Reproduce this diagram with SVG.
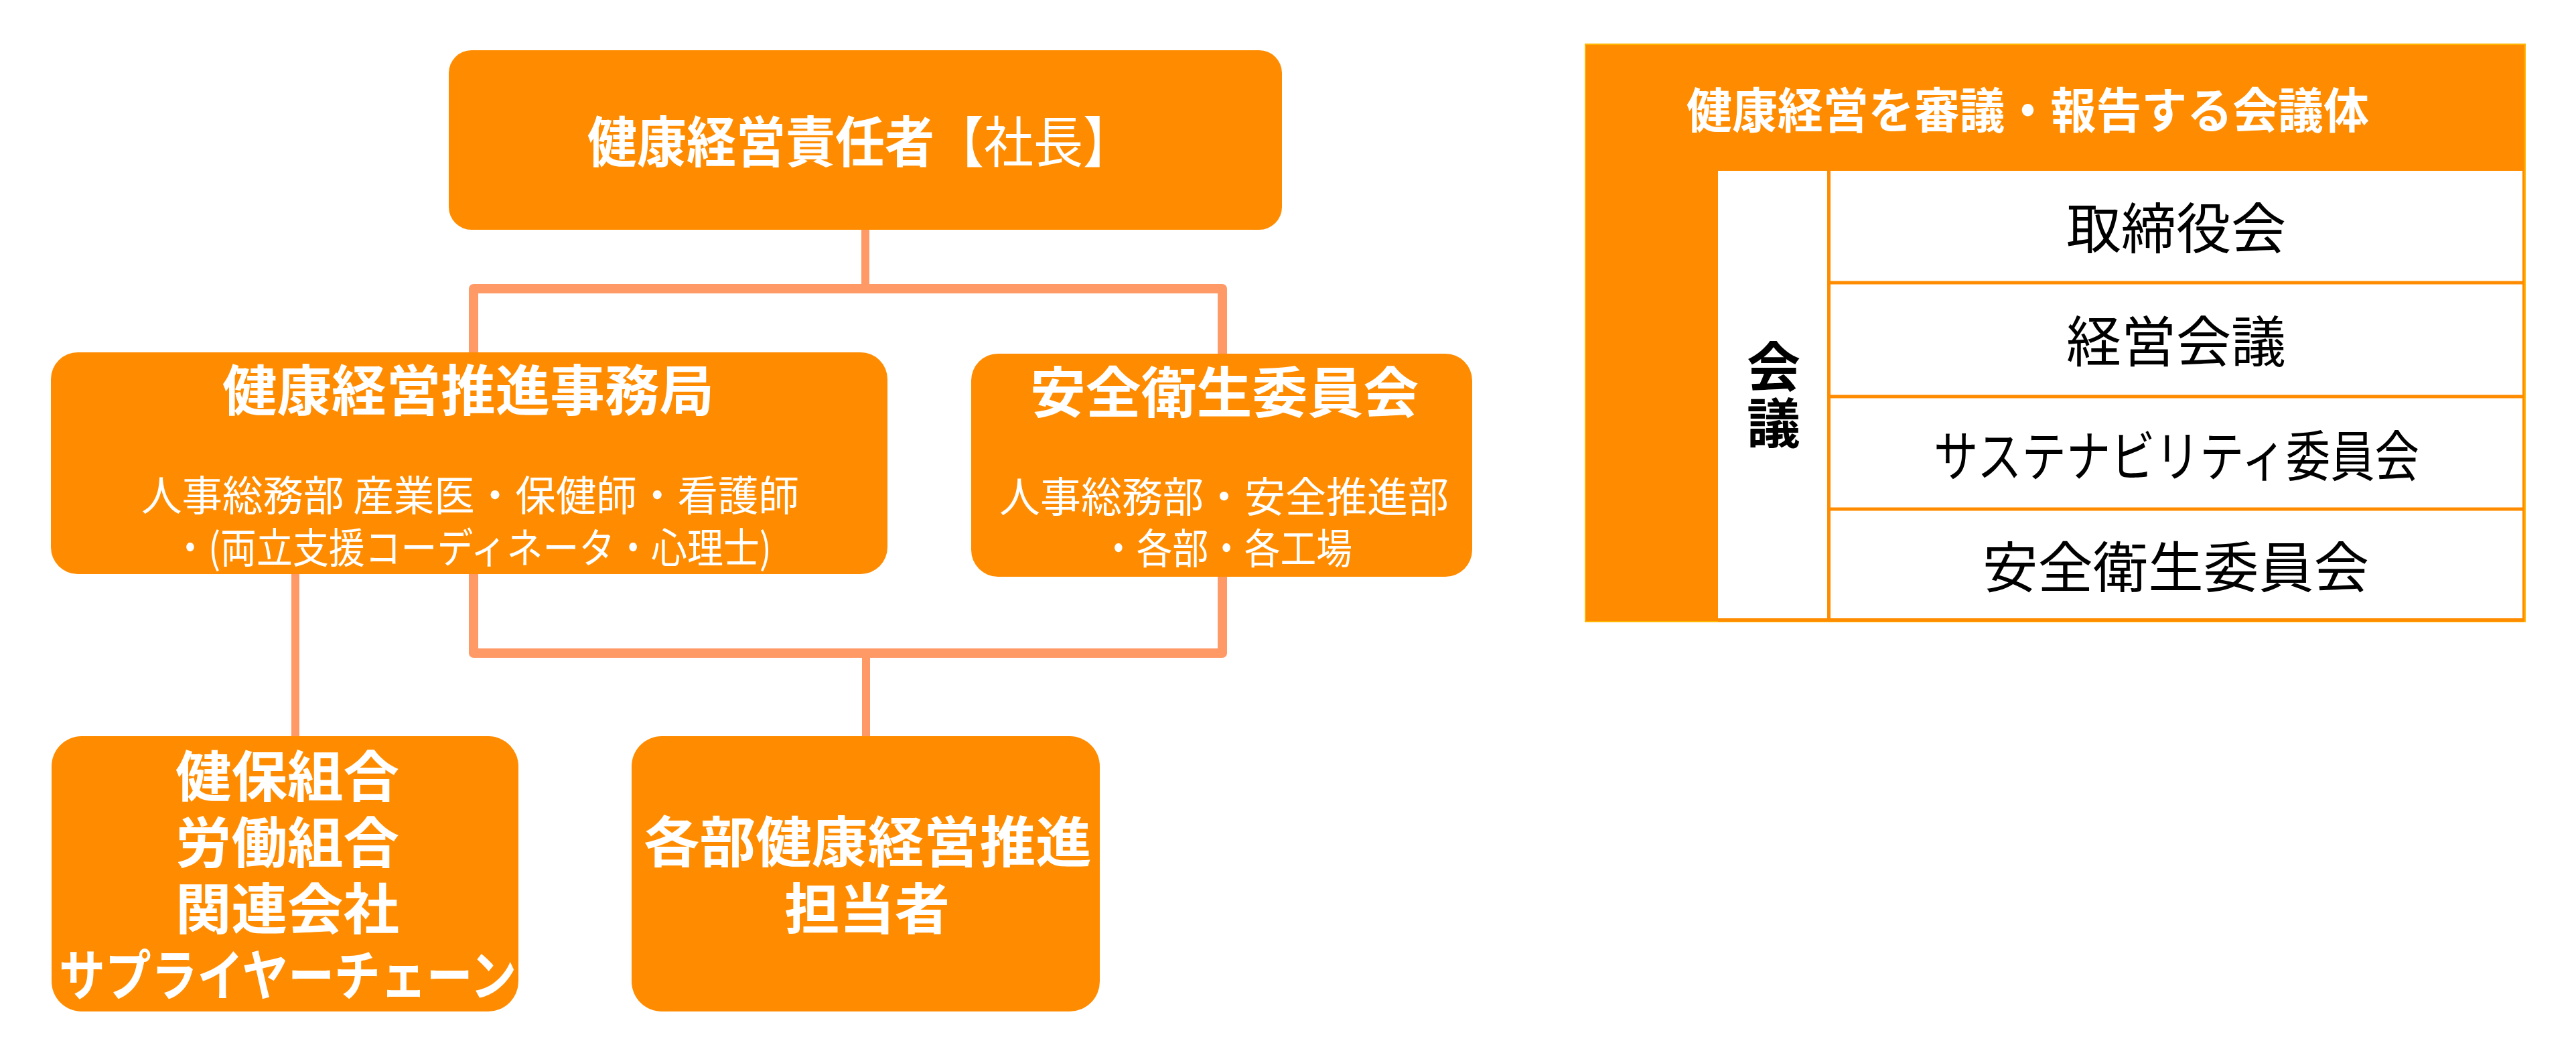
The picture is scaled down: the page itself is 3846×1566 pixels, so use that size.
<svg xmlns="http://www.w3.org/2000/svg" width="3846" height="1566" viewBox="0 0 3846 1566">
<style>
.box{fill:#FF8C00;}
.w{fill:#FFFFFF;font-family:"Noto Sans CJK JP","Noto Sans",sans-serif;text-anchor:middle;}
.k{fill:#000000;font-family:"Noto Sans CJK JP","Noto Sans",sans-serif;text-anchor:middle;}
.b{font-weight:bold;}
.n{font-weight:normal;}
.t{font-size:82px;}
.s{font-size:62px;}
.conn{fill:none;stroke:#FF9966;stroke-linejoin:round;}
.grid{stroke:#FF8C00;stroke-width:5;fill:none;}
</style>
<rect width="3846" height="1566" fill="#FFFFFF"/>
<g id="connectors">
<path class="conn" stroke-width="12" d="M1292,342 V431"/>
<path class="conn" stroke-width="14" d="M707,530 V431 H1825 V530"/>
<path class="conn" stroke-width="14" d="M707,855 V975 H1825 V858"/>
<path class="conn" stroke-width="12" d="M1293,975 V1102"/>
<path class="conn" stroke-width="12" d="M441,855 V1102"/>
</g>
<g id="node-president">
<rect class="box" x="670" y="75" width="1244" height="268" rx="34" ry="34"/>
<text class="w t" x="1284" y="242" textLength="814" lengthAdjust="spacingAndGlyphs"><tspan class="b">健康経営責任者</tspan><tspan class="n">【社長】</tspan></text>
</g>
<g id="node-office">
<rect class="box" x="76" y="526" width="1249" height="331" rx="40" ry="40"/>
<text class="w t b" x="699" y="613" textLength="734" lengthAdjust="spacingAndGlyphs">健康経営推進事務局</text>
<text class="w s n" x="702" y="763" textLength="982" lengthAdjust="spacingAndGlyphs">人事総務部 産業医・保健師・看護師</text>
<text class="w s n" x="704.5" y="841" textLength="895" lengthAdjust="spacingAndGlyphs">・(両立支援コーディネータ・心理士)</text>
</g>
<g id="node-safety">
<rect class="box" x="1450" y="528" width="748" height="333" rx="40" ry="40"/>
<text class="w t b" x="1828" y="616" textLength="580" lengthAdjust="spacingAndGlyphs">安全衛生委員会</text>
<text class="w s n" x="1827.5" y="765" textLength="671" lengthAdjust="spacingAndGlyphs">人事総務部・安全推進部</text>
<text class="w s n" x="1831" y="842" textLength="376" lengthAdjust="spacingAndGlyphs">・各部・各工場</text>
</g>
<g id="node-partners">
<rect class="box" x="77" y="1099" width="697" height="411" rx="45" ry="45"/>
<text class="w t b" x="429" y="1189" textLength="334" lengthAdjust="spacingAndGlyphs">健保組合</text>
<text class="w t b" x="429" y="1288" textLength="334" lengthAdjust="spacingAndGlyphs">労働組合</text>
<text class="w t b" x="429" y="1387" textLength="334" lengthAdjust="spacingAndGlyphs">関連会社</text>
<text class="w t b" x="429.5" y="1486" textLength="683" lengthAdjust="spacingAndGlyphs">サプライヤーチェーン</text>
</g>
<g id="node-dept">
<rect class="box" x="943" y="1099" width="699" height="411" rx="45" ry="45"/>
<text class="w t b" x="1295.5" y="1287" textLength="669" lengthAdjust="spacingAndGlyphs">各部健康経営推進</text>
<text class="w t b" x="1294.5" y="1387" textLength="247" lengthAdjust="spacingAndGlyphs">担当者</text>
</g>
<g id="node-meetings">
<rect x="2367" y="66" width="1403" height="862" fill="#FF8C00" stroke="#FFB400" stroke-width="2"/>
<text class="w b" font-size="72" x="3027.5" y="191" textLength="1019" lengthAdjust="spacingAndGlyphs">健康経営を審議・報告する会議体</text>
<rect x="2565" y="255" width="1201" height="668" fill="#FFFFFF"/>
<path class="grid" d="M2730.5,255 V925 M2730,422 H3768 M2730,592 H3768 M2730,760 H3768 M2565,925.5 H3768"/>
<text class="k b" font-size="80" x="2648" y="577">会</text>
<text class="k b" font-size="80" x="2648" y="661">議</text>
<text class="k t n" x="3249" y="371" textLength="328" lengthAdjust="spacingAndGlyphs">取締役会</text>
<text class="k t n" x="3249" y="540" textLength="328" lengthAdjust="spacingAndGlyphs">経営会議</text>
<text class="k t n" x="3249.5" y="711" textLength="725" lengthAdjust="spacingAndGlyphs">サステナビリティ委員会</text>
<text class="k t n" x="3248.5" y="877" textLength="577" lengthAdjust="spacingAndGlyphs">安全衛生委員会</text>
</g>
</svg>
